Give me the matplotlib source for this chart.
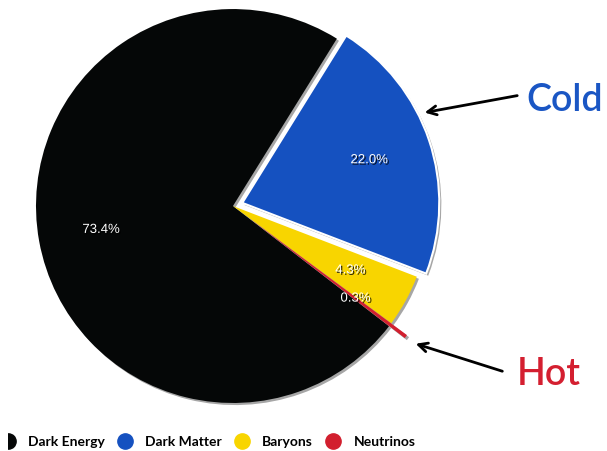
import matplotlib.pyplot as plt
import matplotlib.patheffects as pe
from matplotlib.lines import Line2D
from matplotlib.transforms import Bbox, TransformedBbox

# energy budget of the universe (percent)
components = ['Dark Energy', 'Dark Matter', 'Baryons', 'Neutrinos']
shares = [73.4, 22.0, 4.3, 0.3]
colors = ['#050707', '#1551c0', '#f8d500', '#d21f2e']
offsets = [0.0, 0.05, 0.0, 0.1]

fig = plt.figure(figsize=(6.07, 4.51), dpi=100)
ax = fig.add_axes([0.0593, 0.1064, 0.649, 0.8736])

wedges, texts, autotexts = ax.pie(
    shares, colors=colors, explode=offsets, startangle=-37.6,
    counterclock=False, autopct='%1.1f%%', pctdistance=0.68,
    textprops=dict(color='white', fontsize=9.5, family='Liberation Sans'),
    wedgeprops=dict(linewidth=0))
ax.set_xlim(-1, 1)
ax.set_ylim(-1, 1)
ax.axis('off')

shadow = [pe.SimplePatchShadow(offset=(1.5, -1.5), shadow_rgbFace='black', alpha=0.35), pe.Normal()]
for w in wedges:
    w.set_clip_on(False)
    w.set_path_effects(shadow)
wedges[1].set_edgecolor('white')
wedges[1].set_linewidth(1.5)

for t in autotexts:
    t.set_path_effects([pe.withSimplePatchShadow(offset=(1, -1), shadow_rgbFace='black', alpha=0.8)])
    t.set_clip_on(False)

# arrows pointing at cold and hot dark matter
ax.annotate('', xy=(0.959, 0.472), xytext=(1.457, 0.563),
            arrowprops=dict(arrowstyle='->', lw=2, color='black', mutation_scale=16),
            annotation_clip=False)
ax.annotate('', xy=(0.914, -0.695), xytext=(1.381, -0.843),
            arrowprops=dict(arrowstyle='->', lw=2, color='black', mutation_scale=16),
            annotation_clip=False)
ax.text(1.49, 0.538, 'Cold', color='#1a56c4', fontsize=27, family='Lato',
        weight='semibold', ha='left', va='center', clip_on=False)
ax.text(1.44, -0.853, 'Hot', color='#d41f30', fontsize=27, family='Lato',
        weight='semibold', ha='left', va='center', clip_on=False)

handles = [Line2D([], [], marker='o', linestyle='', markersize=11,
                  markerfacecolor=c, markeredgecolor=c) for c in colors]
leg = fig.legend(handles, components, loc='center left',
                 bbox_to_anchor=(1 / 607, 0.02), ncol=4, frameon=False,
                 borderpad=0, borderaxespad=0, handlelength=1.0,
                 handletextpad=0.95, columnspacing=0.95,
                 prop=dict(family='Lato', size=10, weight='bold'))
# the first legend marker sits against the left border
first = leg.legend_handles[0]
first.set_clip_box(TransformedBbox(Bbox([[8 / 607, 0], [1, 1]]), fig.transFigure))
first.set_clip_on(True)

fig.savefig('out.png', dpi=100)
